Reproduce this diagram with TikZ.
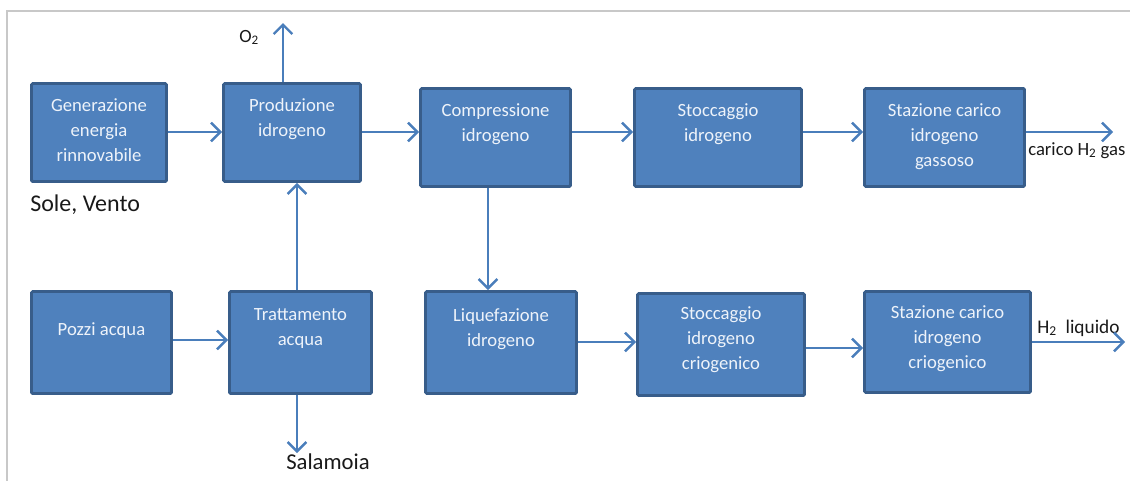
\documentclass[tikz,border=0pt]{standalone}
\usepackage{fontspec}
\setmainfont{Carlito}
\usetikzlibrary{arrows.meta,calc}
\definecolor{boxfill}{RGB}{79,129,189}
\definecolor{boxedge}{RGB}{56,93,138}
\definecolor{arrcol}{RGB}{74,126,187}
\definecolor{boxtext}{RGB}{238,243,250}
\definecolor{framegray}{RGB}{200,200,200}
\tikzset{
  blk/.style={draw=boxedge, fill=boxfill, line width=2.2pt, inner sep=0pt, rounded corners=1pt},
  boxtxt/.style={text=boxtext, inner sep=0pt, font=\fontsize{14pt}{19pt}\selectfont},
  arr/.style={draw=arrcol, line width=1.8pt, -{Straight Barb[length=7pt,width=14pt]}},
  outtxt/.style={text=black!90, inner sep=0pt},
}
\newcommand{\blok}[7]{%
  \node[blk, minimum width={(#4-#2-3)*0.75pt}, minimum height={(#5-#3-3)*0.75pt}] (#1) at ({(#2+#4)/2},{(#3+#5)/2}) {};
  \node[boxtxt, anchor=base] (#1-t) at ($(#1.north)+(0,#7)$) {\parbox[t]{120pt}{\centering #6}};
}
\begin{document}
\begin{tikzpicture}[x=0.75pt,y=-0.75pt]
\useasboundingbox (0,0) rectangle (1130,480);
\clip (0,0) rectangle (1130,480);
% frame
\draw[framegray, line width=1.5pt] (7,481) -- (7,11) -- (1131,11);
% boxes
\blok{gen}{30}{82}{168}{183}{Generazione\\energia\\rinnovabile}{29}
\blok{prod}{222}{82}{362}{183}{Produzione\\idrogeno}{29}
\blok{comp}{419}{87}{572}{188}{Compressione\\idrogeno}{29}
\blok{stoc}{633}{87}{803}{188}{Stoccaggio\\idrogeno}{29}
\blok{staz}{863}{87}{1026}{188}{Stazione carico\\idrogeno\\gassoso}{29}
\blok{pozzi}{30}{290}{173}{395}{Pozzi acqua}{45}
\blok{tratt}{228}{290}{373}{395}{Trattamento\\acqua}{30}
\blok{liq}{424}{290}{578}{395}{Liquefazione\\idrogeno}{31}
\blok{stocc}{636}{292}{806}{397}{Stoccaggio\\idrogeno\\criogenico}{27}
\blok{stazc}{863}{290}{1032}{394}{Stazione carico\\idrogeno\\criogenico}{28}
% labels
\node[outtxt, anchor=base west, font=\fontsize{18pt}{20pt}\selectfont] (sole) at (30,211) {Sole, Vento};
\node[outtxt, anchor=base west, font=\fontsize{17pt}{20pt}\selectfont] (sal) at (286,469) {Salamoia};
\node[outtxt, anchor=base west, font=\fontsize{14pt}{16pt}\selectfont] (o2) at (239,42) {O\textsubscript{2}};
\node[outtxt, anchor=base west, font=\fontsize{14pt}{16pt}\selectfont] (gaslbl) at (1028,155) {carico H\textsubscript{2} gas};
\node[outtxt, anchor=base west, font=\fontsize{14.5pt}{16pt}\selectfont] (liqlbl) at (1037,333) {H\textsubscript{2}\ \ liquido};
% helper coordinates
\coordinate (o2end) at (283,23);
\coordinate (r1) at (0,132);
\coordinate (r2) at (0,340);
\coordinate (r3) at (0,342);
\coordinate (r4) at (0,348);
\coordinate (v1) at (488,0);
\coordinate (v2) at (297,0);
\coordinate (gasend) at (1113,132);
\coordinate (liqend) at (1125,342);
\coordinate (salend) at (297,453);
% connectors
\draw[arr] (prod.north -| o2end) -- (o2end);
\draw[arr] (gen.east |- r1) -- (prod.west |- r1);
\draw[arr] (prod.east |- r1) -- (comp.west |- r1);
\draw[arr] (comp.east |- r1) -- (stoc.west |- r1);
\draw[arr] (stoc.east |- r1) -- (staz.west |- r1);
\draw[arr] (staz.east |- gasend) -- (gasend);
\draw[arr] (comp.south -| v1) -- (liq.north -| v1);
\draw[arr] (tratt.north -| v2) -- (prod.south -| v2);
\draw[arr] (tratt.south -| v2) -- (salend);
\draw[arr] (pozzi.east |- r2) -- (tratt.west |- r2);
\draw[arr] (liq.east |- r3) -- (stocc.west |- r3);
\draw[arr] (stocc.east |- r4) -- (stazc.west |- r4);
\draw[arr] (stazc.east |- liqend) -- (liqend);
\end{tikzpicture}
\end{document}
